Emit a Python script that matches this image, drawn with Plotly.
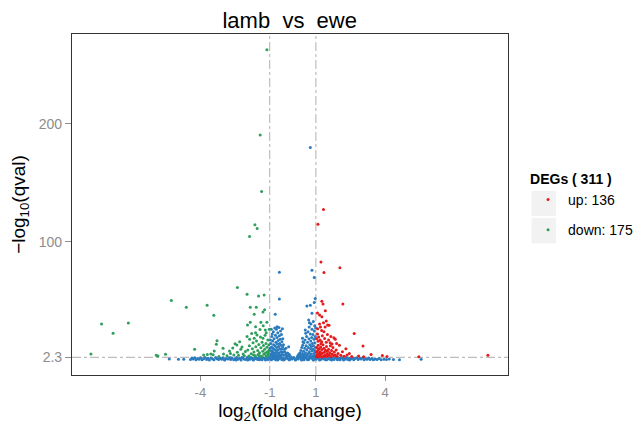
import plotly.graph_objects as go

# ---------------- data ----------------
title_text = "lamb  vs  ewe"
n_up = 136
n_down = 175
n_total = 311

x_ticks = [-4, -1, 1, 4]
y_ticks = [2.3, 100, 200]
y_ticklabels = ["2.3", "100", "200"]
fc_cut = [-1, 1]
q_cut = 2.3

# down-regulated (green)
down_x = [-1.12, -1.41, -1.35, -1.64, -1.54, -1.87, -2.40, -1.98, -1.48, -1.24,
          -5.26, -4.61, -3.71, -3.42, -8.28, -7.12, -7.78, -8.74, -5.91, -5.84,
          -5.51, -4.25, -1.84, -1.58, -1.22, -1.67, -1.29, -1.84, -1.96, -1.38,
          -1.12, -1.61, -1.61, -1.55, -1.19, -1.29, -1.67, -1.87, -2.30, -2.42,
          -2.20, -3.28, -3.31, -3.02, -2.74, -3.40, -3.55, -3.45, -3.70, -3.86,
          -3.00, -2.55, -2.40, -2.85, -3.20, -2.10, -1.95, -1.88, -1.80, -1.75,
          -1.72, -1.68, -1.62, -1.60, -1.57, -1.52, -1.50, -1.47, -1.44, -1.40,
          -1.38, -1.35, -1.33, -1.30, -1.27, -1.25, -1.22, -1.20, -1.18, -1.16,
          -1.14, -1.12, -1.10, -1.08, -1.06, -1.04, -1.03, -1.02, -1.05, -1.15,
          -1.45, -1.70, -1.90, -2.05, -2.15, -2.25, -2.35, -2.60, -2.70, -2.50,
          -1.98, -1.78, -1.42, -1.28, -1.15]
down_y = [262.7, 190.4, 142.6, 114.4, 111.3, 104.5, 61.3, 55.6, 54.2, 55.0,
          50.3, 44.6, 46.3, 37.8, 30.5, 31.4, 22.6, 5.1, 4.0, 3.3,
          4.8, 9.2, 44.7, 44.7, 42.5, 38.7, 40.7, 32.0, 29.7, 32.0,
          32.0, 28.2, 23.1, 21.2, 25.4, 18.4, 18.4, 17.5, 15.5, 12.7,
          11.0, 16.4, 13.4, 9.9, 7.6, 7.6, 5.0, 4.4, 4.6, 4.2,
          5.1, 4.2, 6.5, 3.5, 3.0, 3.6, 8.5, 12.0, 5.2, 9.6,
          14.5, 6.8, 3.5, 11.2, 16.0, 8.0, 4.6, 13.2, 6.2, 19.5,
          10.4, 3.2, 15.0, 7.4, 12.2, 4.8, 9.0, 21.0, 5.9, 14.0,
          3.6, 10.8, 7.0, 17.0, 4.3, 12.8, 8.2, 26.0, 6.0, 3.0,
          3.9, 4.2, 3.4, 7.2, 5.0, 9.0, 4.0, 10.2, 5.5, 13.8,
          19.8, 22.5, 25.8, 29.0, 23.0]

# up-regulated (red)
up_x = [1.33, 1.09, 1.22, 1.35, 2.04, 2.17, 1.26, 1.31, 1.41, 1.16,
        1.26, 1.33, 1.51, 1.20, 1.40, 1.25, 1.35, 2.66, 1.65, 1.84,
        1.10, 1.25, 1.45, 1.62, 3.04, 2.35, 2.85, 3.07, 3.39, 3.88,
        4.08, 5.46, 8.45, 1.78, 1.07, 1.57,
        1.02, 1.04, 1.05, 1.06, 1.08, 1.10, 1.11, 1.13, 1.15, 1.17,
        1.19, 1.21, 1.23, 1.25, 1.27, 1.29, 1.31, 1.33, 1.35, 1.37,
        1.39, 1.42, 1.44, 1.46, 1.48, 1.50, 1.53, 1.55, 1.58, 1.60,
        1.63, 1.66, 1.68, 1.71, 1.74, 1.77, 1.80, 1.84, 1.88, 1.92,
        1.96, 2.02, 2.08, 2.15, 2.22, 2.30, 2.45, 2.55, 1.03, 1.07,
        1.12, 1.18, 1.28, 1.38, 1.50, 1.55, 1.70, 1.90, 1.08, 1.16,
        1.45, 1.22]
up_y = [127.4, 115.0, 83.0, 74.0, 78.0, 47.5, 49.7, 47.5, 41.8, 38.1,
        36.7, 31.6, 29.7, 28.0, 28.0, 25.0, 24.0, 22.4, 19.8, 17.5,
        15.8, 15.5, 15.0, 14.5, 11.9, 4.2, 3.3, 2.8, 4.6, 3.9,
        3.0, 2.8, 4.0, 18.9, 39.8, 29.4,
        3.0, 6.5, 10.5, 4.2, 8.0, 12.5, 2.8, 5.5, 9.5, 3.6,
        7.0, 11.0, 4.8, 2.6, 8.8, 5.9, 13.0, 3.2, 10.0, 6.5,
        4.0, 8.2, 2.9, 11.5, 5.2, 7.4, 3.5, 9.2, 4.5, 6.2,
        12.0, 3.0, 8.0, 5.0, 10.5, 3.8, 6.8, 4.2, 8.5, 3.2,
        5.6, 12.5, 4.0, 7.0, 3.1, 9.5, 5.6, 3.0, 18.0, 22.0,
        19.5, 17.0, 20.5, 18.2, 21.5, 17.0, 13.5, 14.0, 26.5, 30.5,
        33.0, 13.8]

# not significant (blue): higher points
ns_high_x = [0.76, -0.58, 0.83, 0.93, -0.58, -0.76, 0.61, 0.76, 0.97, 0.93,
             0.69, 0.72, 0.54, 0.56, 0.42, 0.44, 0.83, -0.68, -0.18]
ns_high_y = [179.9, 74.3, 76.0, 69.8, 51.7, 38.7, 45.8, 46.4, 52.0, 48.6,
             33.9, 31.6, 25.4, 22.6, 18.4, 15.5, 39.5, 28.2, 11.3]

# not significant (blue): cluster -1 < x < 0
ns_left_x = [-0.98, -0.96, -0.95, -0.94, -0.92, -0.91, -0.90, -0.88, -0.87, -0.86,
             -0.85, -0.84, -0.83, -0.82, -0.81, -0.80, -0.79, -0.78, -0.77, -0.76,
             -0.75, -0.74, -0.73, -0.72, -0.71, -0.70, -0.69, -0.68, -0.67, -0.66,
             -0.65, -0.64, -0.63, -0.62, -0.61, -0.60, -0.59, -0.58, -0.57, -0.56,
             -0.55, -0.54, -0.53, -0.52, -0.51, -0.50, -0.49, -0.48, -0.47, -0.46,
             -0.45, -0.44, -0.43, -0.42, -0.40, -0.38, -0.36, -0.34, -0.32, -0.30,
             -0.28, -0.25, -0.22, -0.19, -0.15, -0.10, -0.80, -0.70, -0.60, -0.90,
             -0.99, -0.97, -0.89, -0.93]
ns_left_y = [3.0, 8.0, 14.0, 5.0, 11.0, 20.0, 3.5, 7.5, 16.0, 10.0,
             4.2, 24.0, 13.0, 6.0, 18.0, 9.0, 3.2, 27.0, 12.0, 5.5,
             21.0, 8.0, 15.0, 3.8, 26.0, 10.5, 6.5, 19.0, 13.5, 4.5,
             23.0, 8.5, 16.5, 3.0, 11.5, 27.5, 6.0, 20.5, 14.0, 9.5,
             4.0, 17.5, 24.5, 7.0, 12.5, 3.4, 21.5, 9.0, 15.5, 5.0,
             26.5, 11.0, 18.0, 6.8, 13.0, 4.0, 9.0, 7.0, 4.5, 10.0,
             5.5, 3.2, 6.0, 3.8, 4.6, 3.0, 2.8, 2.6, 2.7, 5.8,
             10.0, 17.0, 22.0, 26.0]

# not significant (blue): cluster 0 < x < 1
ns_right_x = [0.20, 0.24, 0.28, 0.30, 0.33, 0.35, 0.37, 0.39, 0.41, 0.43,
              0.45, 0.47, 0.48, 0.50, 0.52, 0.53, 0.55, 0.57, 0.58, 0.60,
              0.61, 0.63, 0.64, 0.66, 0.67, 0.68, 0.70, 0.71, 0.72, 0.74,
              0.75, 0.76, 0.77, 0.78, 0.79, 0.80, 0.81, 0.82, 0.83, 0.84,
              0.85, 0.86, 0.87, 0.88, 0.89, 0.90, 0.91, 0.92, 0.93, 0.94,
              0.95, 0.96, 0.97, 0.98, 0.99, 0.99, 0.95, 0.90, 0.70, 0.50]
ns_right_y = [3.0, 4.5, 3.5, 6.0, 4.0, 8.0, 3.2, 10.5, 5.5, 12.5,
              3.8, 7.5, 14.5, 4.6, 10.0, 17.0, 6.0, 3.0, 12.0, 20.0,
              8.5, 4.2, 15.0, 24.0, 10.5, 5.8, 18.0, 28.0, 7.0, 13.0,
              3.5, 22.0, 9.5, 16.0, 30.5, 5.0, 11.5, 19.0, 26.0, 7.8,
              14.0, 3.2, 21.5, 9.0, 32.5, 12.0, 5.5, 17.5, 24.5, 8.0,
              14.5, 3.8, 20.0, 10.5, 6.5, 27.0, 29.0, 2.7, 2.8, 2.6]

# not significant (blue): q below threshold (band along the bottom)
ns_base_x = [-5.35, -4.95, -4.72, -4.43, -4.37, -4.31, -4.24, -4.19, -4.12, -4.06,
             -3.99, -3.93, -3.86, -3.80, -3.73, -3.67, -3.61, -3.54, -3.47, -3.41,
             -3.34, -3.28, -3.21, -3.15, -3.08, -3.02, -2.95, -2.89, -2.82, -2.76,
             -2.69, -2.63, -2.56, -2.50, -2.43, -2.37, -2.30, -2.24, -2.17, -2.11,
             -2.04, -1.98, -1.91, -1.85, -1.78, -1.72, -1.65, -1.59, -1.52, -1.46,
             -1.39, -1.33, -1.26, -1.20, -1.13, -1.07, -1.00, -0.94, -0.87, -0.81,
             -0.74, -0.68, -0.61, -0.55, -0.48, -0.42, -0.35, -0.29, -0.22, -0.16,
             -0.09, -0.03, 0.04, 0.10, 0.17, 0.23, 0.30, 0.36, 0.43, 0.49,
             0.56, 0.62, 0.69, 0.75, 0.82, 0.88, 0.95, 1.01, 1.08, 1.14,
             1.21, 1.27, 1.34, 1.40, 1.47, 1.53, 1.60, 1.66, 1.73, 1.79,
             1.86, 1.92, 1.99, 2.05, 2.12, 2.18, 2.25, 2.31, 2.38, 2.44,
             2.51, 2.57, 2.64, 2.70, 2.77, 2.83, 2.90, 2.96, 3.03, 3.09,
             3.16, 3.22, 3.29, 3.35, 3.42, 3.49, 3.57, 3.65, 3.74, 3.83,
             3.95, 4.06, 4.18, 4.36, 4.62, 5.56]
ns_base_y = [0.9, 0.6, 0.7, 0.4, 1.6, 0.8, 2.0, 0.3, 1.2, 0.6,
             1.8, 0.2, 1.0, 2.1, 0.5, 1.4, 0.1, 1.7, 0.9, 0.3,
             2.2, 1.1, 0.4, 1.5, 0.7, 1.9, 0.2, 1.3, 0.8, 2.0,
             0.5, 1.6, 0.3, 1.0, 2.1, 0.6, 1.4, 0.1, 1.8, 0.9,
             0.4, 2.2, 1.2, 0.7, 1.6, 0.2, 1.9, 1.0, 0.5, 2.1,
             1.3, 0.3, 1.7, 0.8, 2.2, 0.4, 1.5, 0.6, 2.0, 1.1,
             0.2, 1.8, 0.9, 2.2, 0.5, 1.4, 0.7, 2.0, 1.2, 0.3,
             1.6, 0.8, 2.1, 0.4, 1.3, 0.9, 2.2, 0.6, 1.7, 0.2,
             1.9, 1.0, 0.5, 2.2, 1.4, 0.3, 1.8, 0.7, 2.1, 1.1,
             0.4, 1.6, 0.9, 2.0, 0.2, 1.3, 0.6, 1.9, 1.0, 0.5,
             2.1, 0.8, 1.5, 0.3, 1.8, 1.1, 0.6, 2.0, 0.4, 1.4,
             0.9, 1.7, 0.2, 1.2, 2.0, 0.5, 1.5, 0.8, 1.9, 0.3,
             1.1, 0.6, 1.6, 0.4, 1.3, 0.2, 0.9, 0.5, 1.2, 0.3,
             0.7, 0.4, 0.8, 0.5, 0.3, 0.6]

ns_band_x = [-1.95, -1.82, -1.70, -1.57, -1.44, -1.31, -1.18, -1.05, -0.92, -0.79,
             -0.66, -0.53, -0.40, -0.27, -0.14, -0.01, 0.12, 0.25, 0.38, 0.51,
             0.64, 0.77, 0.90, 1.03, 1.16, 1.29, 1.42, 1.55, 1.68, 1.81,
             1.94, 2.07, 2.20, 2.33, 2.46, 2.60, -2.20, -2.45, -2.70, -2.95]
ns_band_y = [0.1, 2.2, 0.0, 1.9, 0.2, 2.1, 0.0, 1.8, 0.3, 2.2,
             0.1, 1.9, 0.0, 2.1, 0.2, 1.7, 0.0, 2.2, 0.1, 1.8,
             0.3, 2.0, 0.0, 2.2, 0.1, 1.9, 0.2, 2.1, 0.0, 1.8,
             0.3, 2.0, 0.1, 2.2, 0.0, 1.7, 2.1, 0.0, 1.9, 0.1]

ns_x = ns_base_x + ns_band_x + ns_left_x + ns_right_x + ns_high_x
ns_y = ns_base_y + ns_band_y + ns_left_y + ns_right_y + ns_high_y

# ---------------- styling ----------------
FONT = "Liberation Sans, Arial, Helvetica, sans-serif"
C_UP = "#E41A1C"
C_DOWN = "#2E9E5B"
C_NS = "#2B7BBF"
MS = 3.0

fig = go.Figure()
fig.add_trace(go.Scatter(x=ns_x, y=ns_y, mode="markers", showlegend=False,
                         marker=dict(color=C_NS, size=MS, line=dict(width=0)),
                         hoverinfo="skip"))
fig.add_trace(go.Scatter(x=up_x, y=up_y, mode="markers", name=f"up: {n_up}",
                         legendgroup="up",
                         marker=dict(color=C_UP, size=MS, line=dict(width=0))))
fig.add_trace(go.Scatter(x=down_x, y=down_y, mode="markers", name=f"down: {n_down}",
                         legendgroup="down",
                         marker=dict(color=C_DOWN, size=MS, line=dict(width=0))))

line_style = dict(color="#BDBDBD", width=1.2, dash="dashdot")
for v in fc_cut:
    fig.add_shape(type="line", xref="x", yref="paper", x0=v, x1=v, y0=0, y1=1,
                  line=line_style, layer="below")
fig.add_shape(type="line", xref="paper", yref="y", x0=0, x1=1, y0=q_cut, y1=q_cut,
              line=line_style, layer="below")

# legend key backgrounds
for (y0, y1) in [(0.466, 0.540), (0.386, 0.460)]:
    fig.add_shape(type="rect", xref="paper", yref="paper", x0=1.054, x1=1.110,
                  y0=y0, y1=y1, fillcolor="#F2F2F2", line=dict(width=0), layer="below")

fig.update_layout(
    width=634, height=430,
    margin=dict(l=72, r=126, t=34, b=55, autoexpand=False),
    paper_bgcolor="white", plot_bgcolor="white",
    font=dict(family=FONT, color="black"),
    title=dict(text=title_text.replace("  ", "&nbsp; "), x=0.457, xanchor="center",
               y=0.953, yanchor="middle", yref="container",
               font=dict(size=22, color="black", family=FONT)),
    legend=dict(title=dict(text=f"<b>DEGs ( {n_total} )</b>", font=dict(size=14)),
                x=1.046, xanchor="left", y=0.614, yanchor="top",
                font=dict(size=14, color="black"), tracegroupgap=9,
                bgcolor="rgba(0,0,0,0)", itemsizing="trace"),
    showlegend=True,
)
fig.update_xaxes(range=[-9.56, 9.32], tickvals=x_ticks, ticktext=[str(t) for t in x_ticks],
                 automargin=False,
                 showgrid=False, zeroline=False, showline=True, mirror=True,
                 linecolor="#333333", linewidth=1.2, ticks="outside", ticklen=5,
                 tickcolor="#8C8C8C", tickfont=dict(size=13, color="#8C8C8C"),
                 title=dict(text="log<sub>2</sub>(fold change)", font=dict(size=19), standoff=3))
fig.update_yaxes(range=[-12.7, 276], tickvals=y_ticks, ticktext=y_ticklabels,
                 automargin=False,
                 showgrid=False, zeroline=False, showline=True, mirror=True,
                 linecolor="#333333", linewidth=1.2, ticks="outside", ticklen=6,
                 tickcolor="#8C8C8C", tickfont=dict(size=14, color="#8C8C8C"),
                 title=dict(text="\u2212log<sub>10</sub>(qval)", font=dict(size=19), standoff=8))

fig.write_html("out.html", config={"displayModeBar": False},
               post_script="document.body.style.margin='0';")
